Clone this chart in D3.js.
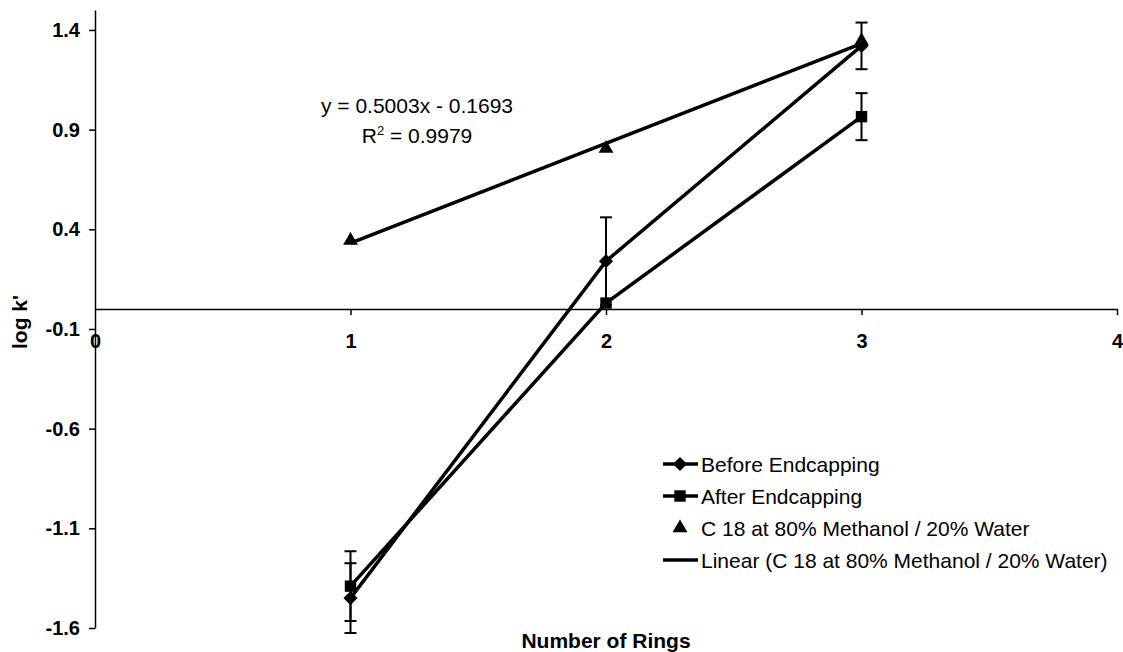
<!DOCTYPE html>
<html>
<head>
<meta charset="utf-8">
<script src="https://cdn.jsdelivr.net/npm/d3@7"></script>
<style>
  body { margin: 0; background: #fff; }
  svg { display: block; font-family: Arial, "Liberation Sans", Helvetica, sans-serif; }
  .axis path, .axis line { stroke: #000; stroke-width: 1.5; }
  .axis text { font-size: 20px; fill: #000; font-weight: bold; }
</style>
</head>
<body>
<svg width="1123" height="652"></svg>
<script>
// data
var rings = [1, 2, 3];
var beforeVals = [-1.45, 0.24, 1.32];
var beforeErr = [0.175, 0.22, 0.117];
var afterVals = [-1.39, 0.03, 0.965];
var afterErr = [0.175, 0, 0.118];
var c18Vals = [0.344, 0.805, 1.345];
var trendSlope = 0.5003, trendIntercept = -0.1693;
var xTicks = [0, 1, 2, 3, 4];
var yTicks = [-1.6, -1.1, -0.6, -0.1, 0.4, 0.9, 1.4];
var legendNames = ["Before Endcapping", "After Endcapping",
  "C 18 at 80% Methanol / 20% Water", "Linear (C 18 at 80% Methanol / 20% Water)"];

var svg = d3.select("svg");

var x = d3.scaleLinear().domain([0, 4]).range([95, 1117]);
var y = d3.scaleLinear().domain([-1.6, 1.5]).range([628, 10]);

var fmt = d3.format(".1f");

// y axis
svg.append("g").attr("class", "axis")
  .attr("transform", "translate(" + x(0) + ",0)")
  .call(d3.axisLeft(y).tickValues(yTicks).tickFormat(d => fmt(d).replace("\u2212", "-"))
    .tickSize(6).tickSizeOuter(0).tickPadding(9));

// x axis crosses at y = 0, labels pushed down
var xAxis = svg.append("g").attr("class", "axis")
  .attr("transform", "translate(0," + y(0) + ")")
  .call(d3.axisBottom(x).tickValues(xTicks).tickFormat(d3.format("d"))
    .tickSize(6).tickSizeOuter(0).tickPadding(19));
xAxis.selectAll(".tick").filter(d => d === 0).select("line").remove();

// axis titles
svg.append("text")
  .attr("x", x(2)).attr("y", 648)
  .attr("text-anchor", "middle")
  .style("font-size", "21px").style("font-weight", "bold")
  .text("Number of Rings");

svg.append("text")
  .attr("transform", "translate(27,322) rotate(-90)")
  .attr("text-anchor", "middle")
  .style("font-size", "21px").style("font-weight", "bold")
  .text("log k'");

var line = d3.line().x(d => x(d[0])).y(d => y(d[1]));

// trendline
svg.append("path")
  .attr("d", line([1, 3].map(r => [r, trendSlope * r + trendIntercept])))
  .attr("fill", "none").attr("stroke", "#000").attr("stroke-width", 3.5);

// error bars
function errorBars(vals, errs) {
  var g = svg.append("g").attr("stroke", "#000").attr("stroke-width", 2);
  rings.forEach(function(r, i) {
    if (!errs[i]) return;
    var cx = x(r), y0 = y(vals[i] - errs[i]), y1 = y(vals[i] + errs[i]);
    g.append("line").attr("x1", cx).attr("x2", cx).attr("y1", y0).attr("y2", y1);
    g.append("line").attr("x1", cx - 6).attr("x2", cx + 6).attr("y1", y0).attr("y2", y0);
    g.append("line").attr("x1", cx - 6).attr("x2", cx + 6).attr("y1", y1).attr("y2", y1);
  });
}
errorBars(beforeVals, beforeErr);
errorBars(afterVals, afterErr);

// series lines
[beforeVals, afterVals].forEach(function(vals) {
  svg.append("path")
    .attr("d", line(rings.map((r, i) => [r, vals[i]])))
    .attr("fill", "none").attr("stroke", "#000").attr("stroke-width", 3.5);
});

var diamond = d3.symbol().type(d3.symbolSquare).size(100);
var square = d3.symbol().type(d3.symbolSquare).size(130);
var triangle = d3.symbol().type(d3.symbolTriangle).size(95);

function markers(vals, sym, rot) {
  svg.append("g").selectAll("path").data(vals).join("path")
    .attr("d", sym)
    .attr("transform", (d, i) => "translate(" + x(rings[i]) + "," + y(d) + ") rotate(" + rot + ")")
    .attr("fill", "#000");
}
markers(beforeVals, diamond, 45);
markers(afterVals, square, 0);
markers(c18Vals, triangle, 0);

// equation
svg.append("text").attr("x", 417).attr("y", 113).attr("text-anchor", "middle")
  .style("font-size", "21px").text("y = 0.5003x - 0.1693");
var eq2 = svg.append("text").attr("x", 417).attr("y", 143).attr("text-anchor", "middle").style("font-size", "21px");
eq2.append("tspan").text("R");
eq2.append("tspan").attr("dy", -8).style("font-size", "13px").text("2");
eq2.append("tspan").attr("dy", 8).text(" = 0.9979");

// legend
var legY = [464, 496, 528, 560];
var leg = svg.append("g");
legendNames.forEach(function(name, i) {
  var ly = legY[i];
  if (i !== 2) {
    leg.append("line").attr("x1", 663).attr("x2", 698).attr("y1", ly).attr("y2", ly)
      .attr("stroke", "#000").attr("stroke-width", 3.5);
  }
  if (i === 0) leg.append("path").attr("d", diamond).attr("transform", "translate(680," + ly + ") rotate(45)");
  if (i === 1) leg.append("path").attr("d", square).attr("transform", "translate(680," + ly + ")");
  if (i === 2) leg.append("path").attr("d", triangle).attr("transform", "translate(680," + ly + ")");
  leg.append("text").attr("x", 701).attr("y", ly).attr("dy", "0.36em")
    .style("font-size", "21px").text(name);
});
</script>
</body>
</html>
